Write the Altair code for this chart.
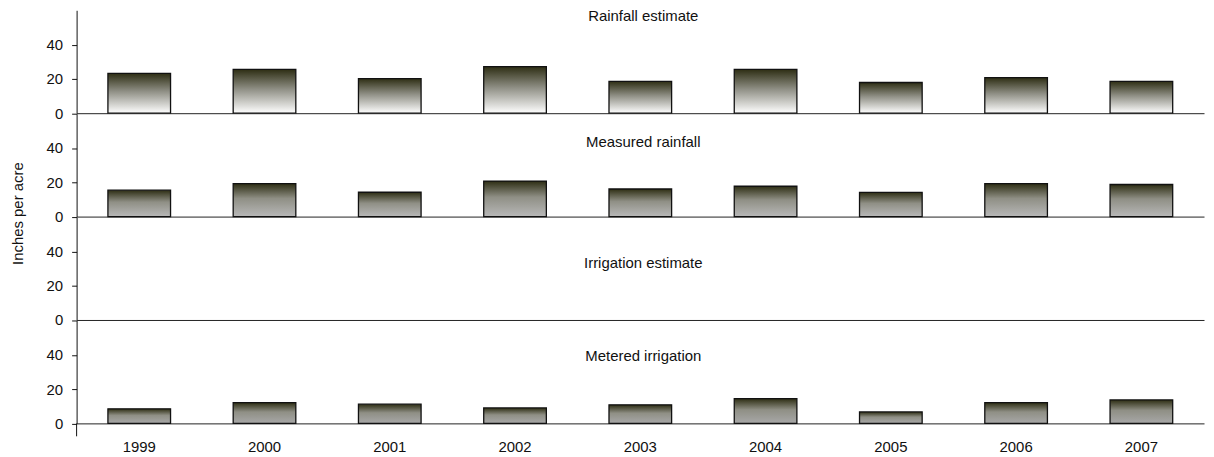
import altair as alt
import pandas as pd

years = ["1999", "2000", "2001", "2002", "2003", "2004", "2005", "2006", "2007"]
rainfall_estimate = [23.2, 25.5, 20.2, 27.1, 18.6, 25.5, 17.9, 20.7, 18.6]
measured_rainfall = [15.4, 19.2, 14.2, 20.7, 16.1, 17.7, 14.1, 19.2, 18.7]
irrigation_estimate = [None] * 9
metered_irrigation = [8.5, 12.1, 11.2, 9.0, 10.8, 14.4, 6.7, 12.1, 13.7]

panel_titles = ["Rainfall estimate", "Measured rainfall", "Irrigation estimate", "Metered irrigation"]
y_ticks = [0, 20, 40]

FONT = "Liberation Sans"
FS = 15
W, H = 1134, 103.5


def grad(bottom):
    return alt.Gradient(
        gradient="linear",
        stops=[alt.GradientStop(color="#2e2e14", offset=0),
               alt.GradientStop(color="#8f8f85", offset=0.45),
               alt.GradientStop(color=bottom, offset=1)],
        x1=0, x2=0, y1=0, y2=1,
    )


def panel(values, title, bottom_color, title_y, last=False, axis_title=False):
    df = pd.DataFrame({"year": years, "value": values})
    xaxis = alt.Axis(
        labels=last, ticks=False, title=None, domainColor="#222", domainWidth=1,
        labelFont=FONT, labelFontSize=FS, labelColor="#111", labelPadding=16,
        labelAngle=0, grid=False,
    )
    bars = alt.Chart(df).mark_bar(
        fill=grad(bottom_color), stroke="#111", strokeWidth=1.3
    ).encode(
        x=alt.X("year:N", sort=years,
                scale=alt.Scale(domain=years, paddingInner=0.5, paddingOuter=0.25),
                axis=xaxis),
        y=alt.Y("value:Q", scale=alt.Scale(domain=[0, 60], nice=False),
                axis=alt.Axis(values=y_ticks, title=None, grid=False, domainColor="#111",
                              tickColor="#111", tickSize=5, labelFont=FONT,
                              labelFontSize=FS, labelColor="#111", labelPadding=9)),
    )
    txt = alt.Chart(pd.DataFrame({"t": [title]})).mark_text(
        font=FONT, fontSize=FS, color="#111", align="center", baseline="middle"
    ).encode(text="t:N", x=alt.value(570), y=alt.value(title_y))
    layers = [bars, txt]
    if axis_title:
        at = alt.Chart(pd.DataFrame({"t": ["Inches per acre"]})).mark_text(
            font=FONT, fontSize=FS, color="#111", align="center", baseline="middle", angle=270
        ).encode(text="t:N", x=alt.value(-59), y=alt.value(H - 3))
        layers.append(at)
    if last:
        ext = alt.Chart(pd.DataFrame({"t": [0]})).mark_rule(
            color="#111", strokeWidth=1
        ).encode(x=alt.value(0), y=alt.value(H), y2=alt.value(H + 13))
        layers.append(ext)
    return alt.layer(*layers).properties(width=W, height=H)


chart = alt.vconcat(
    panel(rainfall_estimate, panel_titles[0], "#ffffff", 6),
    panel(measured_rainfall, panel_titles[1], "#b8b8b8", 29, axis_title=True),
    panel(irrigation_estimate, panel_titles[2], "#b8b8b8", 46),
    panel(metered_irrigation, panel_titles[3], "#a8a8a8", 36, last=True),
    spacing=0,
    bounds="flush",
).properties(
    padding={"left": 3, "top": 0, "right": 2, "bottom": 0}
).configure_view(stroke=None).configure_concat(spacing=0)

chart.save("out.html", embed_options={"renderer": "svg", "actions": False})
